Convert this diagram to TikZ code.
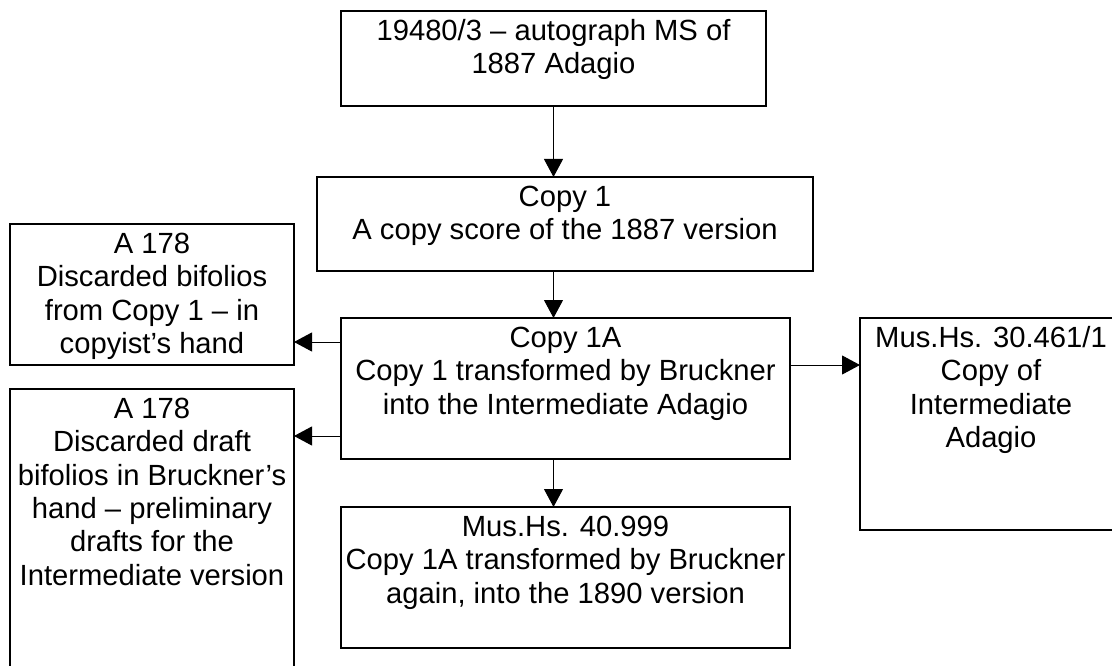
\documentclass[tikz,border=0pt]{standalone}
\usepackage{fontspec}
\setmainfont{Liberation Sans}
\usetikzlibrary{arrows.meta,positioning}

% text face used in every box
\newcommand{\boxfont}{\fontsize{29.2pt}{33.4pt}\selectfont}
% strut fixing the first baseline 25pt below the text node's top
\newcommand{\firstline}{\rule{0pt}{25pt}}

\tikzset{
  srcbox/.style={draw=black, line width=1.6pt, rectangle, inner sep=0pt,
                 outer sep=0pt, anchor=north west, fill=white},
  boxtext/.style={anchor=north, inner sep=0pt, align=center, font=\boxfont},
  link/.style={draw=black, line width=1pt,
               -{Triangle[length=18pt,width=19pt]}}
}

\begin{document}
\begin{tikzpicture}[x=1pt, y=-1pt]
  \useasboundingbox (0,0) rectangle (1112,666);
  \clip (0,0) rectangle (1112,666);

  % boxes
  \node[srcbox, minimum width=425pt, minimum height=95pt]  (top)    at (341,11)  {};
  \node[srcbox, minimum width=496pt, minimum height=94pt]  (copy1)  at (317,177) {};
  \node[srcbox, minimum width=449pt, minimum height=141pt] (copy1a) at (341,318) {};
  \node[srcbox, minimum width=284pt, minimum height=141pt] (discA)  at (10,224)  {};
  \node[srcbox, minimum width=284pt, minimum height=300pt] (discB)  at (10,389)  {};
  \node[srcbox, minimum width=262pt, minimum height=212pt] (ms30)   at (860,318) {};
  \node[srcbox, minimum width=449pt, minimum height=141pt] (ms40)   at (341,507) {};

  % texts, set from the top of each box
  \node[boxtext] (top-t) at ([yshift=-4pt]top.north)
    {\firstline 19480/3 – autograph MS of\\1887 Adagio};
  \node[boxtext] (copy1-t) at ([yshift=-4pt]copy1.north)
    {\firstline Copy 1\\A copy score of the 1887 version};
  \node[boxtext] (copy1a-t) at ([yshift=-4pt]copy1a.north)
    {\firstline Copy 1A\\Copy 1 transformed by Bruckner\\into the Intermediate Adagio};
  \node[boxtext] (discA-t) at ([yshift=-4pt]discA.north)
    {\firstline A 178\\Discarded bifolios\\from Copy 1 – in\\copyist’s hand};
  \node[boxtext] (discB-t) at ([yshift=-4pt]discB.north)
    {\firstline A 178\\Discarded draft\\bifolios in Bruckner’s\\hand – preliminary\\drafts for the\\Intermediate version};
  \node[boxtext] (ms30-t) at ([yshift=-4pt]ms30.north)
    {\firstline Mus.Hs. 30.461/1\\Copy of\\Intermediate\\Adagio};
  \node[boxtext] (ms40-t) at ([yshift=-4pt]ms40.north)
    {\firstline Mus.Hs. 40.999\\Copy 1A transformed by Bruckner\\again, into the 1890 version};

  % connectors
  \draw[link] (top.south) -- (top.south |- copy1.north);
  \draw[link] (top.south |- copy1.south) -- (top.south |- copy1a.north);
  \draw[link] (top.south |- copy1a.south) -- (top.south |- ms40.north);
  \draw[link] ([yshift=-24pt]copy1a.north west) -- ([yshift=-24pt]copy1a.north west -| discA.east);
  \draw[link] ([yshift=-118pt]copy1a.north west) -- ([yshift=-118pt]copy1a.north west -| discB.east);
  \draw[link] ([yshift=-47pt]copy1a.north east) -- ([yshift=-47pt]copy1a.north east -| ms30.west);
\end{tikzpicture}
\end{document}
